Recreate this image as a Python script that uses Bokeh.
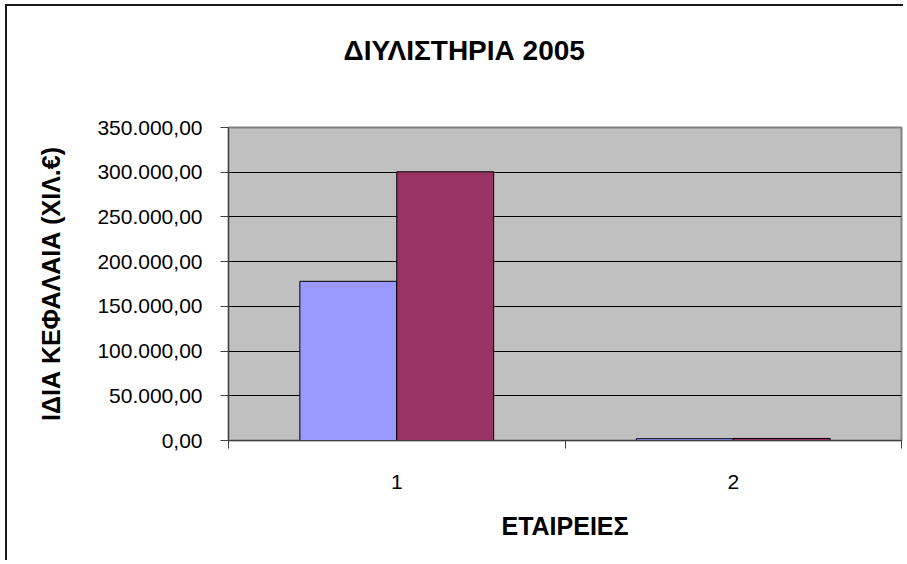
from bokeh.plotting import figure
from bokeh.models import FixedTicker, Range1d, Title, ColumnDataSource
from bokeh.transform import dodge
from bokeh.embed import file_html
from bokeh.resources import INLINE

# ---- data ----
categories = [1, 2]
series_a = [178000, 2000]     # light blue series
series_b = [300500, 2300]     # maroon series
y_ticks = [0, 50000, 100000, 150000, 200000, 250000, 300000, 350000]
y_tick_labels = ["0,00", "50.000,00", "100.000,00", "150.000,00",
                 "200.000,00", "250.000,00", "300.000,00", "350.000,00"]
title_text = "ΔΙΥΛΙΣΤΗΡΙΑ 2005"
x_title = "ΕΤΑΙΡΕΙΕΣ"
y_title = "ΙΔΙΑ ΚΕΦΑΛΑΙΑ (ΧΙΛ.€)"

FONT = "Liberation Sans"
bar_w = 0.288

p = figure(width=898, height=556, output_backend="svg", toolbar_location=None,
           x_range=Range1d(categories[0] - 0.5, categories[-1] + 0.5),
           y_range=Range1d(y_ticks[0], y_ticks[-1]),
           min_border_left=221, min_border_right=4,
           min_border_top=121, min_border_bottom=122)
p.title = None

# blank spacer between plot area and title, then the title itself
p.add_layout(Title(text=" ", text_font_size="10px", standoff=47), "above")
p.add_layout(Title(text=title_text, align="left", offset=115, standoff=4,
                   text_font=FONT, text_font_size="28px", text_font_style="bold",
                   text_color="black"), "above")

p.background_fill_color = "#C0C0C0"
p.border_fill_color = "white"
p.outline_line_color = "#808080"
p.outline_line_width = 2

src = ColumnDataSource(dict(cat=categories, a=series_a, b=series_b))
p.vbar(x=dodge("cat", -bar_w / 2, range=p.x_range), top="a", width=bar_w, source=src,
       fill_color="#9999FF", line_color="black", line_width=1)
p.vbar(x=dodge("cat", bar_w / 2, range=p.x_range), top="b", width=bar_w, source=src,
       fill_color="#993366", line_color="black", line_width=1)

# grid
p.xgrid.grid_line_color = None
p.ygrid.ticker = FixedTicker(ticks=y_ticks)
p.ygrid.grid_line_color = "black"
p.ygrid.grid_line_width = 1

# y axis
ya = p.yaxis[0]
ya.ticker = FixedTicker(ticks=y_ticks)
ya.major_label_overrides = {t: l for t, l in zip(y_ticks, y_tick_labels)}
ya.major_label_text_font = FONT
ya.major_label_text_font_size = "21px"
ya.major_label_text_color = "black"
ya.major_tick_out = 8
ya.major_tick_in = 0
ya.major_label_standoff = 18
ya.minor_tick_line_color = None
ya.axis_line_color = "#404040"
ya.major_tick_line_color = "#404040"
ya.axis_label = y_title
ya.axis_label_text_font = FONT
ya.axis_label_text_font_size = "25px"
ya.axis_label_text_font_style = "bold"
ya.axis_label_text_color = "black"
ya.axis_label_standoff = 29

# x axis
xa = p.xaxis[0]
bounds = [c - 0.5 for c in categories] + [categories[-1] + 0.5]
xa.ticker = FixedTicker(ticks=categories, minor_ticks=bounds)
xa.major_tick_line_color = None
xa.major_tick_out = 0
xa.major_tick_in = 0
xa.minor_tick_out = 8
xa.minor_tick_in = 0
xa.minor_tick_line_color = "#404040"
xa.axis_line_color = "#404040"
xa.major_label_text_font = FONT
xa.major_label_text_font_size = "21px"
xa.major_label_text_color = "black"
xa.major_label_standoff = 26
xa.axis_label = x_title
xa.axis_label_text_font = FONT
xa.axis_label_text_font_size = "25px"
xa.axis_label_text_font_style = "bold"
xa.axis_label_text_color = "black"
xa.axis_label_standoff = 20

p.styles = {"margin-left": "5px", "margin-top": "4px",
            "border-left": "2px solid #1a1a1a", "border-top": "2px solid #1a1a1a"}

open("out.html", "w").write(file_html(p, INLINE))
